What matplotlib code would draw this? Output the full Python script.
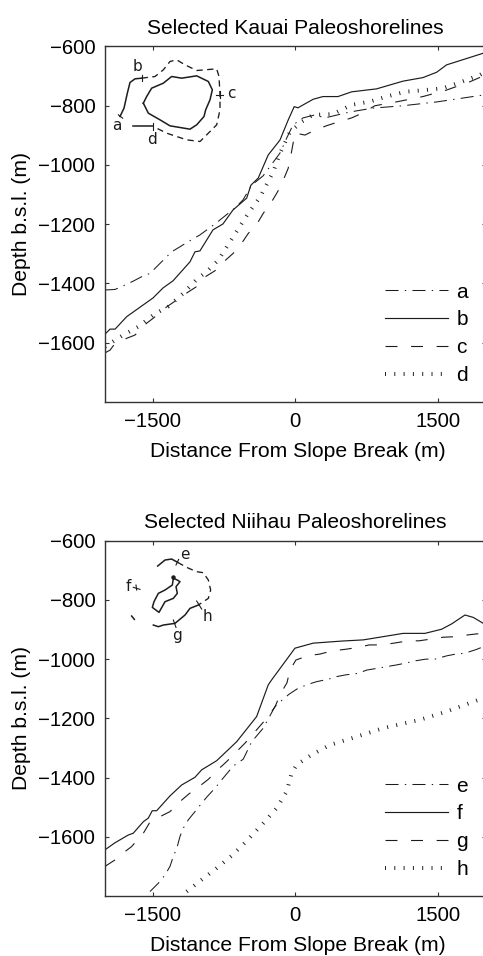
import matplotlib
matplotlib.use('Agg')
import matplotlib.pyplot as plt

plt.rcParams['font.family'] = ['Liberation Sans', 'DejaVu Sans']
plt.rcParams['lines.scale_dashes'] = False
plt.rcParams['axes.unicode_minus'] = True

# Kauai profiles (distance m, depth m)
a_x = [-2000, -1894, -1808, -1703, -1614, -1527, -1440, -1299, -1125, -1002, -844, -634, -550, -458, -339, -161, -90, -24, 81, 207, 312, 574, 817, 1132, 1489, 1762, 1973, 2000]
a_y = [-1422, -1420, -1408, -1392, -1377, -1366, -1338, -1293, -1259, -1236, -1199, -1145, -1118, -1068, -1037, -960, -909, -865, -841, -831, -841, -821, -808, -800, -787, -774, -764, -762]
b_x = [-2000, -1947, -1894, -1772, -1632, -1496, -1390, -1285, -1107, -1054, -1002, -865, -760, -655, -511, -466, -389, -284, -161, -74, -11, 28, 189, 291, 449, 593, 855, 1132, 1342, 1486, 1591, 1973, 2000]
b_y = [-1571, -1554, -1554, -1512, -1480, -1449, -1415, -1391, -1327, -1293, -1290, -1219, -1199, -1152, -1112, -1068, -1044, -966, -916, -848, -803, -807, -778, -769, -769, -753, -743, -717, -705, -687, -662, -623, -620]
c_x = [-2000, -1947, -1894, -1772, -1685, -1562, -1492, -1369, -1141, -1044, -949, -844, -739, -652, -563, -494, -399, -336, -248, -185, -126, -74, -45, -3, 102, 207, 333, 449, 593, 711, 837, 1079, 1342, 1591, 1836, 1973, 2000]
c_y = [-1634, -1625, -1602, -1585, -1574, -1534, -1517, -1483, -1432, -1412, -1378, -1357, -1323, -1298, -1264, -1231, -1197, -1163, -1124, -1090, -1051, -1011, -966, -892, -899, -882, -867, -855, -841, -824, -800, -786, -769, -747, -719, -700, -695]
d_x = [-2000, -1808, -1650, -1492, -1338, -1177, -1036, -931, -809, -652, -494, -371, -231, -161, -56, 67, 186, 396, 593, 785, 961, 1153, 1363, 1552, 1749, 1941, 2000]
d_y = [-1613, -1574, -1546, -1506, -1478, -1433, -1386, -1360, -1321, -1242, -1163, -1109, -1023, -961, -889, -854, -831, -828, -797, -786, -769, -753, -747, -741, -719, -696, -685]

# Niihau profiles
e_x = [-1527, -1440, -1369, -1317, -1282, -1240, -1212, -1177, -1125, -1054, -984, -925, -844, -774, -652, -547, -458, -336, -213, -137, -63, 32, 137, 225, 347, 435, 533, 662, 750, 845, 967, 1058, 1153, 1276, 1374, 1468, 1591, 1686, 1784, 1907, 2000]
e_y = [-1785, -1757, -1729, -1700, -1667, -1633, -1599, -1571, -1543, -1515, -1487, -1464, -1436, -1408, -1361, -1338, -1279, -1233, -1160, -1138, -1118, -1098, -1085, -1076, -1068, -1059, -1053, -1048, -1037, -1032, -1025, -1020, -1014, -1005, -1000, -1000, -989, -983, -980, -967, -955]
f_x = [-2000, -1894, -1755, -1703, -1597, -1545, -1503, -1457, -1317, -1194, -1054, -984, -826, -616, -406, -284, -248, -3, 189, 488, 715, 925, 1135, 1363, 1539, 1644, 1784, 1871, 1976, 2000]
f_y = [-1644, -1620, -1594, -1588, -1549, -1537, -1512, -1512, -1462, -1425, -1399, -1374, -1343, -1279, -1194, -1087, -1070, -963, -946, -939, -935, -924, -913, -913, -899, -881, -851, -859, -879, -885]
g_x = [-2000, -1894, -1790, -1720, -1597, -1534, -1422, -1317, -1212, -1117, -1002, -914, -809, -721, -616, -529, -287, -213, -150, -87, -56, 7, 137, 259, 389, 522, 652, 778, 908, 1037, 1171, 1303, 1433, 1555, 1696, 1818, 1959, 2000]
g_y = [-1700, -1678, -1650, -1633, -1588, -1554, -1532, -1515, -1481, -1455, -1428, -1406, -1372, -1346, -1312, -1284, -1195, -1161, -1114, -1080, -1037, -1003, -988, -983, -972, -967, -961, -952, -952, -946, -939, -938, -932, -926, -924, -918, -913, -912]
h_x = [-1141, -984, -826, -668, -529, -336, -195, -90, -38, 15, 172, 365, 645, 925, 1311, 1591, 1973, 2000]
h_y = [-1785, -1745, -1706, -1664, -1620, -1554, -1503, -1447, -1385, -1357, -1323, -1290, -1262, -1233, -1205, -1177, -1132, -1128]

# island sketches, in map units
kauai_coast_x = [430, 440, 455, 490, 515, 545, 590, 625, 637, 630, 617, 612, 590, 570, 510, 480, 445, 430]
kauai_coast_y = [310, 290, 265, 250, 230, 235, 228, 245, 270, 300, 330, 350, 375, 388, 378, 360, 340, 310]
kauai_solid_x = [360, 372, 382, 390, 405, 425]
kauai_solid_y = [350, 325, 280, 248, 237, 235]
kauai_dash_x = [425, 465, 490, 510, 530, 555, 590, 650, 657, 660, 660, 650, 630, 600, 560, 500, 460]
kauai_dash_y = [235, 230, 210, 185, 180, 195, 212, 207, 230, 285, 330, 375, 395, 425, 420, 400, 380]
kauai_d_x = [398, 460]
kauai_d_y = [380, 380]
kauai_ticks = [((355, 368), (345, 355)), ((425, 425), (225, 245)), ((648, 670), (285, 285)), ((660, 660), (275, 295)), ((460, 460), (370, 390))]
kauai_labels = [('a', 350, 378), ('b', 413, 200), ('c', 695, 282), ('d', 455, 418)]

niihau_coast_x = [250, 247, 225, 205, 192, 187, 207, 225, 250, 262, 258, 270, 262, 250]
niihau_coast_y = [145, 165, 180, 190, 215, 232, 247, 215, 205, 190, 170, 155, 150, 145]
niihau_e_x = [203, 225, 245, 263]
niihau_e_y = [108, 90, 87, 97]
niihau_dash_x = [263, 290, 320, 340, 355, 362, 355, 325]
niihau_dash_y = [97, 112, 125, 128, 150, 180, 205, 225]
niihau_g_x = [325, 300, 285, 255, 220, 205, 190]
niihau_g_y = [225, 235, 255, 280, 285, 290, 285]
niihau_frag_x = [125, 133]
niihau_frag_y = [258, 268]
niihau_dot_x = [250]
niihau_dot_y = [140]
niihau_ticks = [((258, 266), (105, 88)), ((320, 335), (213, 237)), ((250, 258), (270, 292)), ((130, 150), (172, 178)), ((138, 140), (165, 180))]
niihau_labels = [('e', 286, 73), ('f', 115, 168), ('g', 260, 315), ('h', 352, 260)]

x_ticks = [-1500, 0, 1500]
y_ticks = [-600, -800, -1000, -1200, -1400, -1600]

INK = '#1c1c1c'
DASHDOT = dict(color=INK, lw=0.75, ls=(0, (9.4, 4.5, 1, 4.5)))
SOLID = dict(color=INK, lw=0.85, ls='-')
DASHED = dict(color=INK, lw=0.8, ls=(0, (8.6, 9.8)))
DOTTED = dict(color=INK, lw=2.8, ls=(0, (0.7, 6.0)), dash_capstyle='butt')

W, H = 483, 956


def add_panel(top, bottom, title, series, map_box):
    left, right = 105, 485.5
    ax = fig.add_axes([left / W, 1 - bottom / H, (right - left) / W, (bottom - top) / H])
    styles = [DASHDOT, SOLID, DASHED, DOTTED]
    for (name, xs, ys), st in zip(series, styles):
        ax.plot(xs, ys, label=name, **st)
    ax.set_xlim(-2000, 2000)
    ax.set_ylim(-1800, -600)
    ax.set_xticks(x_ticks)
    ax.set_yticks(y_ticks)
    ax.tick_params(direction='in', top=True, right=True, length=3, width=0.8, color='#333333',
                   labelsize=14.7, pad=7)
    for s in ax.spines.values():
        s.set_linewidth(1.0)
        s.set_color('#333333')
    ax.set_title(title, fontsize=15.1, pad=9)
    ax.set_xlabel('Distance From Slope Break (m)', fontsize=15.2, labelpad=8, x=0.507)
    ax.set_ylabel('Depth b.s.l. (m)', fontsize=15.2, labelpad=5)
    ax.legend(loc='lower left', bbox_to_anchor=(0.736, 0.048), frameon=False, fontsize=15,
              handlelength=3.0, handletextpad=0.43, labelspacing=0.42, borderpad=0, borderaxespad=0)
    # inset island sketch
    m = ax.inset_axes([0, 1 - (map_box[3] - map_box[2]) / 3 / (bottom - top), 135 / (right - left),
                       (map_box[3] - map_box[2]) / 3 / (bottom - top)])
    m.set_xlim(map_box[0], map_box[1])
    m.set_ylim(map_box[3], map_box[2])
    m.set_xticks([])
    m.set_yticks([])
    m.axis('off')
    m.patch.set_alpha(0)
    return m


def draw_map(m, solids, dashes, ticks, labels):
    for xs, ys in solids:
        m.plot(xs, ys, color=INK, lw=1.1)
    for xs, ys in dashes:
        m.plot(xs, ys, color=INK, lw=0.95, ls=(0, (4.5, 3.2)))
    for xs, ys in ticks:
        m.plot(xs, ys, color=INK, lw=0.8)
    for t, x, y in labels:
        m.text(x, y, t, ha='center', va='center', fontsize=11, family='DejaVu Sans', color=INK)


fig = plt.figure(figsize=(W / 100, H / 100), dpi=100)

m1 = add_panel(46.5, 402, 'Selected Kauai Paleoshorelines',
               [('a', a_x, a_y), ('b', b_x, b_y), ('c', c_x, c_y), ('d', d_x, d_y)],
               (315, 720, 140, 450))
draw_map(m1, [(kauai_coast_x, kauai_coast_y), (kauai_solid_x, kauai_solid_y), (kauai_d_x, kauai_d_y)],
         [(kauai_dash_x, kauai_dash_y)], kauai_ticks, kauai_labels)

m2 = add_panel(540.7, 896, 'Selected Niihau Paleoshorelines',
               [('e', e_x, e_y), ('f', f_x, f_y), ('g', g_x, g_y), ('h', h_x, h_y)],
               (45, 450, 32, 342))
draw_map(m2, [(niihau_coast_x, niihau_coast_y), (niihau_e_x, niihau_e_y), (niihau_g_x, niihau_g_y),
              (niihau_frag_x, niihau_frag_y)],
         [(niihau_dash_x, niihau_dash_y)], niihau_ticks, niihau_labels)
m2.plot(niihau_dot_x, niihau_dot_y, marker='o', ms=2.2, color=INK)

fig.savefig('out.png', dpi=100)
